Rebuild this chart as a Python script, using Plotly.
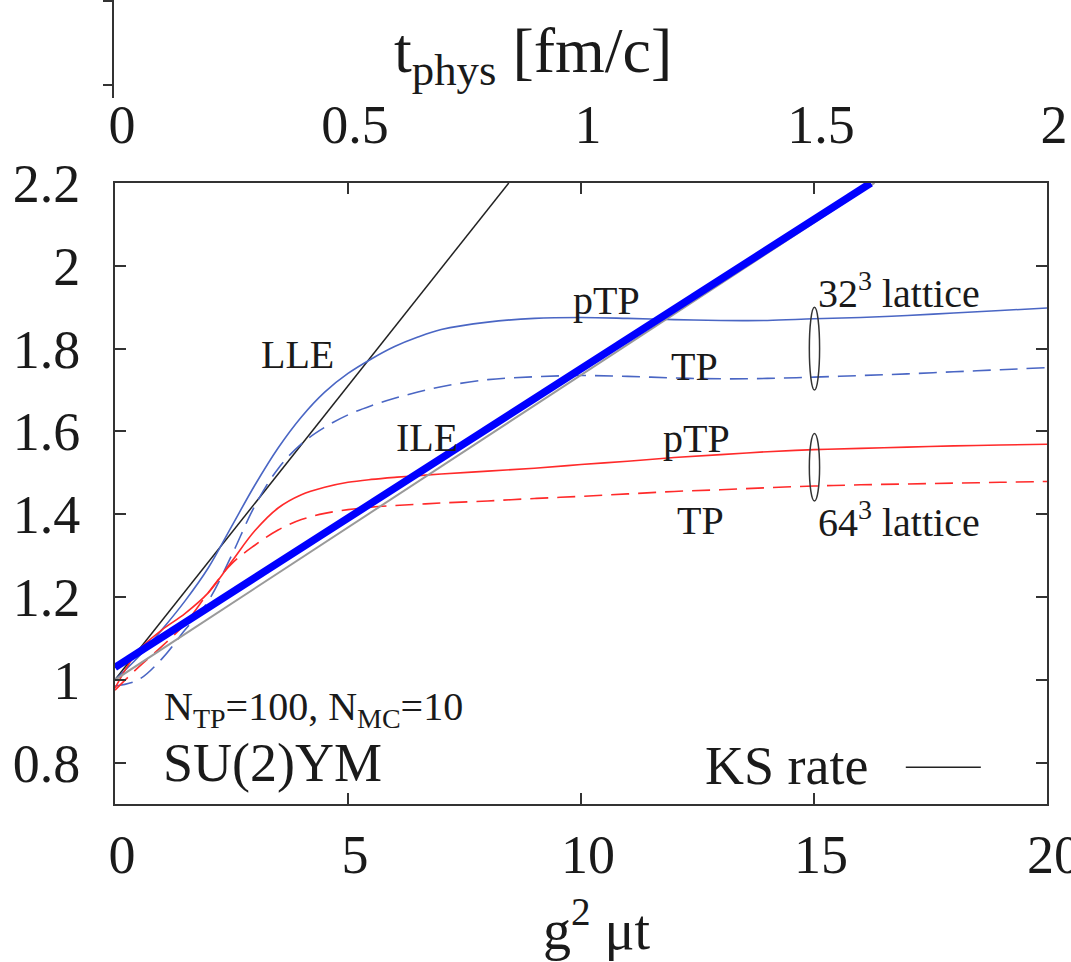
import plotly.graph_objects as go

# g^2 mu t grid shared by the lattice curves
t_grid = [0, 0.5, 1.0, 1.5, 2.0, 2.5, 3.0, 3.5, 4.0, 4.5, 5.0, 5.5, 6.0, 6.5, 7.0,
          8, 9, 10, 11, 12, 13, 14, 15, 16, 17, 18, 19, 20]

# 32^3 lattice
ptp_32 = [1.00, 1.055, 1.12, 1.19, 1.27, 1.37, 1.47, 1.56, 1.635, 1.695, 1.74, 1.775,
          1.805, 1.828, 1.846, 1.864, 1.873, 1.875, 1.873, 1.870, 1.868, 1.868, 1.872,
          1.875, 1.880, 1.886, 1.892, 1.898]
tp_32 = [0.985, 1.00, 1.05, 1.12, 1.19, 1.30, 1.42, 1.51, 1.57, 1.61, 1.64, 1.662,
         1.68, 1.695, 1.708, 1.725, 1.732, 1.735, 1.733, 1.729, 1.727, 1.728, 1.731,
         1.735, 1.739, 1.744, 1.749, 1.754]

# 64^3 lattice
ptp_64 = [0.98, 1.07, 1.12, 1.16, 1.21, 1.285, 1.36, 1.415, 1.447, 1.465, 1.477, 1.484,
          1.489, 1.493, 1.497, 1.504, 1.511, 1.52, 1.528, 1.537, 1.544, 1.551, 1.556,
          1.559, 1.562, 1.565, 1.567, 1.569]
tp_64 = [0.975, 1.03, 1.08, 1.135, 1.21, 1.28, 1.325, 1.362, 1.387, 1.402, 1.411, 1.417,
         1.421, 1.424, 1.427, 1.432, 1.438, 1.443, 1.449, 1.455, 1.459, 1.464, 1.468,
         1.471, 1.473, 1.475, 1.477, 1.479]

# straight lines: largest Lyapunov exponent, intermediate one, and the linear fit
lle_x, lle_y = [0, 8.45], [1.0, 2.2]
ile_x, ile_y = [0, 16.3], [1.0, 2.2]
fit_x, fit_y = [0, 16.22], [1.03, 2.2]

# top axis: physical time
tphys_vals = [0, 0.5, 1, 1.5, 2]
tphys_text = ["0", "0.5", "1", "1.5", "2"]
x_ticks = [0, 5, 10, 15, 20]
y_ticks = [0.8, 1.0, 1.2, 1.4, 1.6, 1.8, 2.0, 2.2]
y_text = ["0.8", "1", "1.2", "1.4", "1.6", "1.8", "2", "2.2"]

SERIF = "Liberation Serif"
BLUE = "#4a66c4"
RED = "#ff2a2a"

fig = go.Figure()
fig.add_trace(go.Scatter(x=lle_x, y=lle_y, mode="lines",
                         line=dict(color="#222222", width=1.5)))
fig.add_trace(go.Scatter(x=t_grid, y=tp_32, mode="lines", line_shape="spline",
                         line=dict(color=BLUE, width=1.6, dash="18px,9px")))
fig.add_trace(go.Scatter(x=t_grid, y=ptp_32, mode="lines", line_shape="spline",
                         line=dict(color=BLUE, width=1.6)))
fig.add_trace(go.Scatter(x=t_grid, y=tp_64, mode="lines", line_shape="spline",
                         line=dict(color=RED, width=1.6, dash="18px,9px")))
fig.add_trace(go.Scatter(x=t_grid, y=ptp_64, mode="lines", line_shape="spline",
                         line=dict(color=RED, width=1.6)))
fig.add_trace(go.Scatter(x=ile_x, y=ile_y, mode="lines",
                         line=dict(color="#9a9a9a", width=2)))
fig.add_trace(go.Scatter(x=fit_x, y=fit_y, mode="lines",
                         line=dict(color="#0000ff", width=7.5)))
# carrier for the physical-time axis on top
fig.add_trace(go.Scatter(x=[0, 2], y=[None, None], xaxis="x2", mode="lines",
                         hoverinfo="skip"))

ann_font = dict(family=SERIF, size=40, color="#1a1a1a")
big_font = dict(family=SERIF, size=54, color="#1a1a1a")
labels = [
    ("LLE", 3.92, 1.786, "center", ann_font),
    ("pTP", 10.55, 1.915, "center", ann_font),
    ("TP", 12.44, 1.757, "center", ann_font),
    ("ILE", 6.70, 1.586, "center", ann_font),
    ("pTP", 12.48, 1.582, "center", ann_font),
    ("TP", 12.57, 1.384, "center", ann_font),
    ("32<sup>3</sup> lattice", 15.05, 1.94, "left", ann_font),
    ("64<sup>3</sup> lattice", 15.05, 1.388, "left", ann_font),
    ("N<sub>TP</sub>=100, N<sub>MC</sub>=10", 1.0, 0.93, "left", ann_font),
    ("SU(2)YM", 0.98, 0.80, "left", big_font),
    ("KS rate", 16.2, 0.793, "right", big_font),
]
annotations = [dict(text=t, x=x, y=y, xref="x", yref="y", xanchor=a, yanchor="middle",
                    showarrow=False, font=f) for t, x, y, a, f in labels]

L, R, T, B, W, H = 115, 24, 183, 158, 1071, 962
pw, ph = W - L - R, H - T - B


def px_x(p):
    return (p - L) / pw


def px_y(p):
    return (H - B - p) / ph


# axis titles placed by pixel position
annotations += [
    dict(text="t<sub>phys</sub> [fm/c]", x=px_x(533), y=px_y(55), xref="paper",
         yref="paper", xanchor="center", yanchor="middle", showarrow=False,
         font=dict(family=SERIF, size=64, color="#1a1a1a")),
    dict(text="g<sup>2</sup> μt", x=px_x(597), y=px_y(925), xref="paper",
         yref="paper", xanchor="center", yanchor="middle", showarrow=False,
         font=dict(family=SERIF, size=56, color="#1a1a1a")),
]

shapes = [
    # brackets grouping the pTP/TP pairs of each lattice
    dict(type="circle", xref="x", yref="y", x0=14.9, x1=15.12, y0=1.70, y1=1.90,
         line=dict(color="#333333", width=1.5)),
    dict(type="circle", xref="x", yref="y", x0=14.9, x1=15.12, y0=1.432, y1=1.595,
         line=dict(color="#333333", width=1.5)),
    # key sample for the KS rate line
    dict(type="line", xref="x", yref="y", x0=16.97, x1=18.58, y0=0.789, y1=0.789,
         line=dict(color="#222222", width=1.5)),
]
# short vertical axis stub above the top labels
stub = dict(color="#333333", width=2)
shapes += [
    dict(type="line", xref="paper", yref="paper", x0=px_x(113), x1=px_x(113),
         y0=px_y(0), y1=px_y(98), line=stub),
    dict(type="line", xref="paper", yref="paper", x0=px_x(103), x1=px_x(113),
         y0=px_y(1), y1=px_y(1), line=stub),
    dict(type="line", xref="paper", yref="paper", x0=px_x(103), x1=px_x(113),
         y0=px_y(85), y1=px_y(85), line=stub),
]

tick_font = dict(family=SERIF, size=54, color="#1a1a1a")
fig.update_layout(
    width=W, height=H,
    margin=dict(l=L, r=R, t=T, b=B, pad=0, autoexpand=False),
    paper_bgcolor="white", plot_bgcolor="white",
    showlegend=False,
    xaxis=dict(range=[0, 20], tickvals=x_ticks, ticks="inside", ticklen=11,
               tickwidth=2, tickcolor="#333333", showline=True, linewidth=2,
               linecolor="#333333", mirror="ticks", showgrid=False, zeroline=False,
               tickfont=tick_font, ticklabelshift=7, ticklabelstandoff=2,
               ticklabeloverflow="allow", automargin=False),
    xaxis2=dict(range=[0, 2], overlaying="x", side="top", tickvals=tphys_vals,
                ticktext=tphys_text, ticks="", showline=False, showgrid=False,
                zeroline=False, tickfont=tick_font, ticklabelshift=7,
                ticklabelstandoff=28, ticklabeloverflow="allow", automargin=False),
    yaxis=dict(range=[0.7, 2.2], tickvals=y_ticks, ticktext=y_text, ticks="inside",
               ticklen=11, tickwidth=2, tickcolor="#333333", showline=True,
               linewidth=2, linecolor="#333333", mirror="ticks", showgrid=False,
               zeroline=False, tickfont=tick_font, ticklabelstandoff=22,
               automargin=False),
    annotations=annotations,
    shapes=shapes,
)

fig.write_html("out.html")
